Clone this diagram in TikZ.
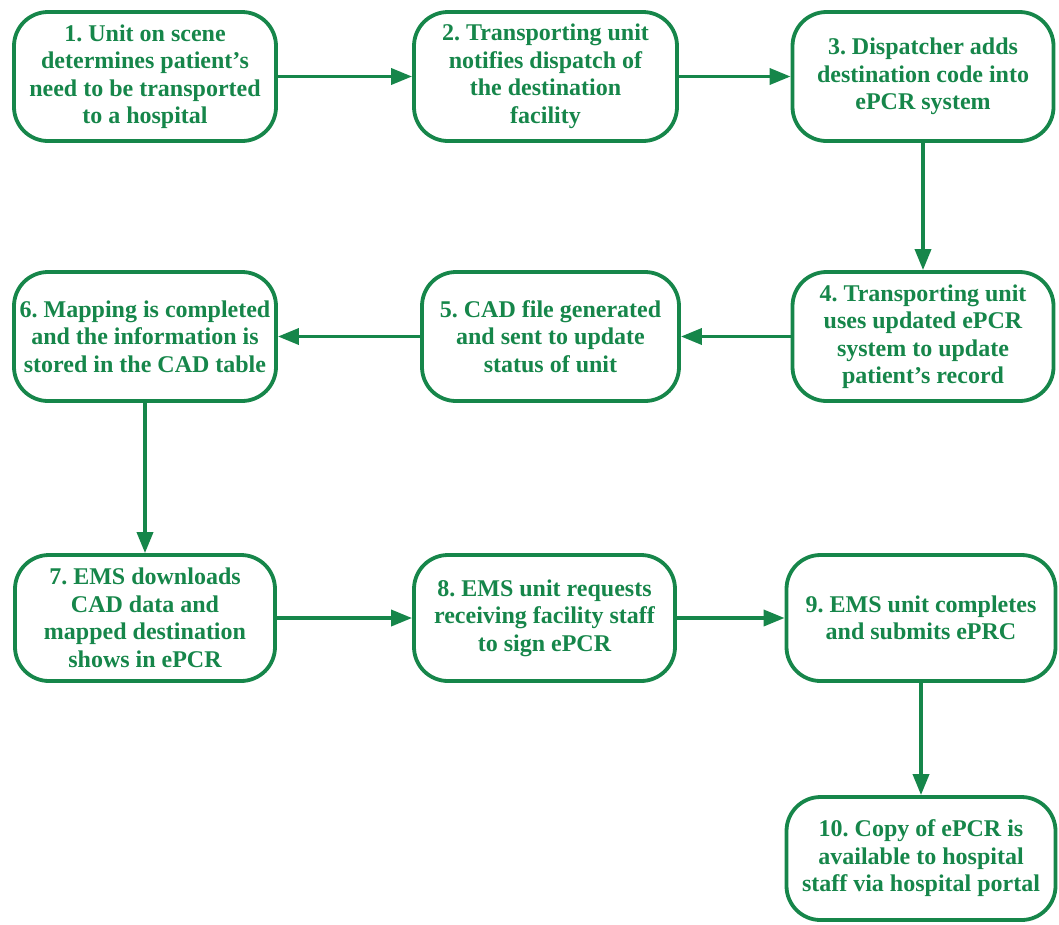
\documentclass[tikz,border=0pt]{standalone}
\usepackage{fontspec}
\setmainfont{Liberation Serif}[BoldFont={Liberation Serif Bold}]
\newfontfamily\boxfont{Liberation Serif Bold}
\usetikzlibrary{arrows.meta}
\definecolor{eg}{RGB}{22,134,74}
\frenchspacing
\begin{document}
\begin{tikzpicture}[x=1pt,y=-1pt,
  stepbox/.style={draw=eg, line width=3.8pt, rounded corners=34pt, text=eg,
    font=\boxfont\frenchspacing\fontsize{24}{27.5}\selectfont, align=center, inner sep=0pt},
  flow/.style={draw=eg, line width=3.6pt, -{Triangle[length=21pt,width=16pt]}}]
\useasboundingbox (0,0) rectangle (1059,924);
\node[stepbox, minimum width=262pt, minimum height=129pt] (n1) at (145,76.5) {1. Unit on scene\\determines patient’s\\need to be transported\\to a hospital};
\node[stepbox, minimum width=263pt, minimum height=129pt] (n2) at (545.5,76.5) {2. Transporting unit\\notifies dispatch of\\the destination\\facility};
\node[stepbox, minimum width=261pt, minimum height=129pt] (n3) at (923,76.5) {3. Dispatcher adds\\destination code into\\ePCR system};
\node[stepbox, minimum width=261pt, minimum height=129pt] (n4) at (923,336.5) {4. Transporting unit\\uses updated ePCR\\system to update\\patient’s record};
\node[stepbox, minimum width=257pt, minimum height=129pt] (n5) at (550.5,336.5) {5. CAD file generated\\and sent to update\\status of unit};
\node[stepbox, minimum width=262pt, minimum height=129pt] (n6) at (145,336.5) {6. Mapping is completed\\and the information is\\stored in the CAD table};
\node[stepbox, minimum width=260pt, minimum height=126pt] (n7) at (145,618) {7. EMS downloads\\CAD data and\\mapped destination\\shows in ePCR};
\node[stepbox, minimum width=261pt, minimum height=126pt] (n8) at (544.5,618) {8. EMS unit requests\\receiving facility staff\\to sign ePCR};
\node[stepbox, minimum width=269pt, minimum height=126pt] (n9) at (921,618) {9. EMS unit completes\\and submits ePRC};
\node[stepbox, minimum width=269pt, minimum height=123pt] (n10) at (921,858.5) {10. Copy of ePCR is\\available to hospital\\staff via hospital portal};
\draw[flow] (n1) -- (n2);
\draw[flow] (n2) -- (n3);
\draw[flow] (n3) -- (n4);
\draw[flow] (n4) -- (n5);
\draw[flow] (n5) -- (n6);
\draw[flow] (n6) -- (n7);
\draw[flow] (n7) -- (n8);
\draw[flow] (n8) -- (n9);
\draw[flow] (n9) -- (n10);
\end{tikzpicture}
\end{document}
